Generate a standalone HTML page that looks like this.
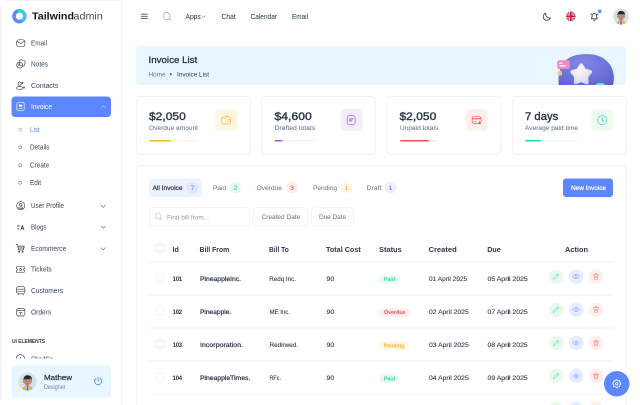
<!DOCTYPE html>
<html lang="en">
<head>
<meta charset="utf-8">
<title>Invoice List - Tailwindadmin</title>
<style>
*{box-sizing:border-box;margin:0;padding:0}
html,body{width:640px;height:405px;overflow:hidden;background:#fff}
body{font-family:"Liberation Sans",sans-serif}
#app{position:absolute;left:0;top:0;width:1280px;height:810px;transform:scale(.5);transform-origin:0 0;will-change:transform;background:#fff;overflow:hidden}
.t{position:absolute;white-space:nowrap;transform-origin:0 50%;display:block}
.i{position:absolute;display:block}
#app div{position:absolute}
aside.side{position:absolute;left:0;top:0;width:244px;height:810px}
.edgeL{background:#eef0f2}
.edgeT{background:#ebedf0}
.edgeR{background:#e4e7eb}
.act{border-radius:7px;background:#5d87ff}
.dot{border:1.6px solid #2a3547;border-radius:50%}
.clipw{overflow:hidden}
.ubox{border-radius:7px;background:#e8f7ff}
header.top{position:absolute;left:245px;top:0;width:1035px;height:66px}
.bul{border-radius:50%;background:#2a3547}
.bdot{border-radius:50%;background:#5d87ff}
main{position:absolute;left:272px;top:0;width:1008px;height:810px}
.banner{position:absolute;left:0;top:92px;width:980px;height:78px;border-radius:7px;background:#e8f7ff;overflow:hidden}
.card{position:absolute;top:192px;width:228.5px;height:117px;border-radius:8px;background:#fff;box-shadow:inset 0 0 0 1.5px #ebedf0}
.bar{height:3.4px;border-radius:2px;overflow:hidden}
.bar>div{position:static!important;height:100%;border-radius:2px}
.ib{border-radius:8px}
.panel{position:absolute;left:0;top:330.5px;width:981px;height:600px;border-radius:8px;background:#fff;box-shadow:inset 0 0 0 1.5px #ebedf0}
.tabon{border-radius:6px;background:#ecf2ff}
.bdg{border-radius:50%}
.btn{border-radius:6px;background:#5d87ff}
.inp{border:1.3px solid #e6e9ed;border-radius:7px;background:#fff}
.cb{border:1.3px solid #e3e6ea;border-radius:4px;background:#fff}
.ln{background:#eeeff1}
.sb{border-radius:9px}
.ab{border-radius:50%}
.fab{border-radius:50%;background:#5d87ff}
</style>
</head>
<body>
<div id="app">
<aside class="side">
<div class="edgeL" style="left:0px;top:10.5px;width:2px;height:788px;"></div>
<div class="edgeT" style="left:12px;top:0px;width:231px;height:1px;"></div>
<div class="edgeR" style="left:242.6px;top:0px;width:1.2px;height:810px;"></div>
<svg class="i" style="left:0;top:0" width="80" height="64" viewBox="0 0 80 64"><path d="M46.00 44.87A14.4 14.4 0 1 1 33.87 18.87L36.34 25.63A7.2 7.2 0 1 0 42.40 38.64Z" fill="#5d87ff"/><path d="M33.64 18.96A14.4 14.4 0 0 1 49.16 22.40L43.98 27.40A7.2 7.2 0 0 0 36.22 25.68Z" fill="#14dfb8"/><path d="M48.98 22.22A14.4 14.4 0 0 1 45.78 44.99L42.29 38.70A7.2 7.2 0 0 0 43.89 27.31Z" fill="#49beff"/></svg>
<span class="t" style="left:64px;top:20px;font-size:20px;line-height:24px;font-weight:700;color:#14161b;transform:scaleX(1.0699);">Tailwind</span>
<span class="t" style="left:147.4px;top:20px;font-size:20px;line-height:24px;color:#44474f;transform:scaleX(1.0755);">admin</span>
<svg class="i" style="left:30.7px;top:75.8px;" width="21" height="21" viewBox="0 0 24 24" fill="none" stroke="#2a3547" stroke-width="1.4" stroke-linecap="round" stroke-linejoin="round"><rect x="2.500" y="4" width="19" height="16" rx="5.500"/><path d="M4 7.500l5.700 4.300c1.400 1 3.200 1 4.600 0L20 7.500"/></svg>
<span class="t" style="left:61.5px;top:77.8px;font-size:14px;line-height:17px;color:#3a465b;transform:scaleX(0.9139);">Email</span>
<svg class="i" style="left:30.7px;top:117.8px;" width="21" height="21" viewBox="0 0 24 24" fill="none" stroke="#2a3547" stroke-width="1.4" stroke-linecap="round" stroke-linejoin="round"><rect x="8.5" y="2.5" width="13" height="13" rx="4" transform="rotate(12 15 9)"/><circle cx="9.5" cy="14" r="6.8"/><path d="M7 15c0-2.200 1.500-3.700 3.700-3.700"/></svg>
<span class="t" style="left:61.5px;top:119.8px;font-size:14px;line-height:17px;color:#3a465b;transform:scaleX(0.9295);">Notes</span>
<svg class="i" style="left:30.7px;top:160.8px;" width="21" height="21" viewBox="0 0 24 24" fill="none" stroke="#2a3547" stroke-width="1.4" stroke-linecap="round" stroke-linejoin="round"><circle cx="9.500" cy="7" r="3.800"/><ellipse cx="9.500" cy="17.200" rx="6.800" ry="4"/><path d="M16.500 3.500v4M14.800 5.500h3.400"/><circle cx="19.500" cy="16" r="1.400"/></svg>
<span class="t" style="left:61.5px;top:162.8px;font-size:14px;line-height:17px;color:#3a465b;transform:scaleX(0.9864);">Contacts</span>
<div class="act" style="left:22.6px;top:192.5px;width:199.4px;height:41.5px;"></div>
<svg class="i" style="left:30px;top:202.3px;" width="22" height="22" viewBox="0 0 24 24" fill="none" stroke="#fff" stroke-width="1.4" stroke-linecap="round" stroke-linejoin="round"><rect x="4" y="2.500" width="16" height="19" rx="4"/><rect x="8.500" y="8" width="7" height="4.500" rx="1" fill="#fff" stroke="none"/><path d="M8 16.500h8"/></svg>
<span class="t" style="left:61.5px;top:204.8px;font-size:14px;line-height:17px;color:#fff;transform:scaleX(0.9468);">Invoice</span>
<svg class="i" style="left:198.5px;top:205.5px;" width="15" height="15" viewBox="0 0 24 24" fill="none" stroke="#fff" stroke-width="1.4" stroke-linecap="round" stroke-linejoin="round"><path d="M6 15l6-6 6 6"/></svg>
<svg class="i" style="left:30.7px;top:401.4px;" width="21" height="21" viewBox="0 0 24 24" fill="none" stroke="#2a3547" stroke-width="1.4" stroke-linecap="round" stroke-linejoin="round"><circle cx="12" cy="12" r="9.300"/><circle cx="12" cy="9.500" r="2.800"/><ellipse cx="12" cy="16.500" rx="4.500" ry="2.200"/></svg>
<span class="t" style="left:61.5px;top:403.4px;font-size:14px;line-height:17px;color:#3a465b;transform:scaleX(0.9024);">User Profile</span>
<svg class="i" style="left:197.5px;top:403.6px;" width="17" height="17" viewBox="0 0 24 24" fill="none" stroke="#465164" stroke-width="1.5" stroke-linecap="round" stroke-linejoin="round"><path d="M6 9l6 6 6-6"/></svg>
<svg class="i" style="left:32.7px;top:445.8px;" width="17" height="17" viewBox="0 0 24 24" fill="none" stroke="#2a3547" stroke-width="1.4" stroke-linecap="round" stroke-linejoin="round"><path d="M2.500 6.500h7.500M2.500 11h5.500M2.500 15.500h4.500M2.500 19.500h3" stroke-width="1.900" stroke-linecap="butt" opacity=".8"/><path d="M12 19.500L16.500 7l4.500 12.500M13.800 15.500h5.400" stroke-width="2.300"/></svg>
<span class="t" style="left:61.5px;top:445.8px;font-size:14px;line-height:17px;color:#3a465b;transform:scaleX(0.8849);">Blogs</span>
<svg class="i" style="left:197.5px;top:446px;" width="17" height="17" viewBox="0 0 24 24" fill="none" stroke="#465164" stroke-width="1.5" stroke-linecap="round" stroke-linejoin="round"><path d="M6 9l6 6 6-6"/></svg>
<svg class="i" style="left:31.45px;top:487.35px;" width="19.5" height="19.5" viewBox="0 0 24 24" fill="none" stroke="#2a3547" stroke-width="1.7" stroke-linecap="round" stroke-linejoin="round"><path d="M1.500 2.500h1.700c1.100 0 2 .800 2.200 1.800L7 14.200c.2 1.100 1.100 1.800 2.200 1.800h8.600c1 0 1.900-.7 2.100-1.700L21.500 6.500H6"/><path d="M6.800 11h13.700"/><rect x="7.800" y="19" width="2.400" height="2.400" rx=".6"/><rect x="16.300" y="19" width="2.400" height="2.400" rx=".6"/></svg>
<span class="t" style="left:61.5px;top:488.6px;font-size:14px;line-height:17px;color:#3a465b;transform:scaleX(0.9439);">Ecommerce</span>
<svg class="i" style="left:197.5px;top:488.8px;" width="17" height="17" viewBox="0 0 24 24" fill="none" stroke="#465164" stroke-width="1.5" stroke-linecap="round" stroke-linejoin="round"><path d="M6 9l6 6 6-6"/></svg>
<svg class="i" style="left:31.2px;top:528.9px;" width="20" height="20" viewBox="0 0 24 24" fill="none" stroke="#2a3547" stroke-width="1.4" stroke-linecap="round" stroke-linejoin="round"><path d="M2 9.500V8a3.500 3.500 0 0 1 3.500-3.500h13A3.500 3.500 0 0 1 22 8v1.500a2.500 2.500 0 0 0 0 5V16a3.500 3.500 0 0 1-3.500 3.500h-13A3.500 3.500 0 0 1 2 16v-1.500a2.500 2.500 0 0 0 0-5z"/><circle cx="12" cy="12" r="2.300"/></svg>
<span class="t" style="left:61.5px;top:530.4px;font-size:14px;line-height:17px;color:#3a465b;transform:scaleX(0.9469);">Tickets</span>
<svg class="i" style="left:30.7px;top:571.1px;" width="21" height="21" viewBox="0 0 24 24" fill="none" stroke="#2a3547" stroke-width="1.4" stroke-linecap="round" stroke-linejoin="round"><rect x="2.500" y="2.500" width="19" height="16.500" rx="5"/><path d="M2.500 8.500h19M2.500 14h19M6.500 19v2.500M17.500 19v2.500"/></svg>
<span class="t" style="left:61.5px;top:573.1px;font-size:14px;line-height:17px;color:#3a465b;transform:scaleX(0.9455);">Customers</span>
<svg class="i" style="left:30.7px;top:614.4px;" width="21" height="21" viewBox="0 0 24 24" fill="none" stroke="#2a3547" stroke-width="1.4" stroke-linecap="round" stroke-linejoin="round"><rect x="2.500" y="3" width="19" height="17.500" rx="5"/><path d="M2.500 8.500h19M9 13h6M12 13v4.500M6.500 20.500v1.500M17.500 20.500v1.500"/></svg>
<span class="t" style="left:61.5px;top:616.4px;font-size:14px;line-height:17px;color:#3a465b;transform:scaleX(0.9463);">Orders</span>
<div class="dot" style="left:36.6px;top:255.6px;width:7.6px;height:7.6px;border-color:#5d87ff"></div>
<span class="t" style="left:59.5px;top:250.8px;font-size:14px;line-height:17px;color:#5d87ff;transform:scaleX(0.8946);">List</span>
<div class="dot" style="left:36.6px;top:290.6px;width:7.6px;height:7.6px;border-color:#3a465b"></div>
<span class="t" style="left:59.5px;top:285.8px;font-size:14px;line-height:17px;color:#3a465b;transform:scaleX(0.9113);">Details</span>
<div class="dot" style="left:36.6px;top:326.6px;width:7.6px;height:7.6px;border-color:#3a465b"></div>
<span class="t" style="left:59.5px;top:321.8px;font-size:14px;line-height:17px;color:#3a465b;transform:scaleX(0.9160);">Create</span>
<div class="dot" style="left:36.6px;top:361.6px;width:7.6px;height:7.6px;border-color:#3a465b"></div>
<span class="t" style="left:59.5px;top:356.8px;font-size:14px;line-height:17px;color:#3a465b;transform:scaleX(0.9119);">Edit</span>
<span class="t" style="left:24px;top:676.3px;font-size:10.5px;line-height:13px;font-weight:700;color:#2a3547;transform:scaleX(0.9349);">UI ELEMENTS</span>
<div class="clipw" style="left:0px;top:700px;width:240px;height:17px;">
<svg class="i" style="left:30.25px;top:6.75px;" width="21.5" height="21.5" viewBox="0 0 24 24" fill="none" stroke="#2a3547" stroke-width="1.4" stroke-linecap="round" stroke-linejoin="round"><circle cx="12" cy="12" r="9.5"/><path d="M12 8v8M8 12h8"/></svg>
<span class="t" style="left:61.5px;top:10.4px;font-size:14px;line-height:17px;color:#3a465b;transform:scaleX(0.8894);">ShadCn</span>
</div>
<div class="ubox" style="left:22.5px;top:730px;width:199.5px;height:64.5px;"></div>
<svg class="i" style="left:37.4px;top:745px" width="36" height="36" viewBox="0 0 40 40">
<defs><clipPath id="av1"><circle cx="20" cy="20" r="20"/></clipPath></defs>
<g clip-path="url(#av1)"><rect width="40" height="40" fill="#d6e0e7"/>
<path d="M8 41c0-7 4-11.500 12-11.500S32 34 32 41z" fill="#f0ad1c"/>
<path d="M17 30h6l1.500 11h-9z" fill="#f6f7f9"/>
<path d="M18.300 30.500h3.400l.9 10.500h-5.200z" fill="#2e74df"/>
<rect x="16.500" y="25" width="7" height="6" rx="2.500" fill="#b5756a"/>
<ellipse cx="20" cy="19.800" rx="8.600" ry="9.200" fill="#c98a7c"/>
<ellipse cx="11.300" cy="20.500" rx="1.700" ry="2.500" fill="#c58577"/><ellipse cx="28.700" cy="20.500" rx="1.700" ry="2.500" fill="#c58577"/>
<path d="M11.300 18.500c-1.300-7 2.200-12.500 9.200-12.500 6.500 0 10.500 4.500 9 12.500-.7-2.600-1.800-4.300-3.300-5.200-3.500 1.600-8 1.400-11 .200-1.800 1-3.200 2.700-3.900 5z" fill="#26262b"/>
<ellipse cx="16.500" cy="19.500" rx="2.100" ry="1.800" fill="#f4ece8"/><ellipse cx="23.500" cy="19.500" rx="2.100" ry="1.800" fill="#f4ece8"/>
<circle cx="16.700" cy="19.600" r="1.200" fill="#2b2320"/><circle cx="23.300" cy="19.600" r="1.200" fill="#2b2320"/>
<path d="M13.800 16.800c1.500-1 3.500-1 5 0M21.200 16.800c1.500-1 3.500-1 5 0" stroke="#2b2320" stroke-width="1" fill="none"/>
<path d="M17.500 25c1.700.9 3.300.9 5 0" stroke="#7c3f38" stroke-width="1" fill="none"/>
</g></svg>
<span class="t" style="left:88px;top:745.8px;font-size:15px;line-height:18px;-webkit-text-stroke:0.51px currentColor;color:#2a3547;transform:scaleX(1.0660);">Mathew</span>
<span class="t" style="left:88px;top:766.8px;font-size:12px;line-height:14px;color:#737c8e;transform:scaleX(0.8953);">Designer</span>
<svg class="i" style="left:185.75px;top:752.25px;" width="20.5" height="20.5" viewBox="0 0 24 24" fill="none" stroke="#5d87ff" stroke-width="2.1" stroke-linecap="round" stroke-linejoin="round"><path d="M12 3v9"/><path d="M7 5.800a8.200 8.200 0 1 0 10 0"/></svg>
</aside>
<header class="top">
<svg class="i" style="left:35px;top:24.2px;" width="17" height="17" viewBox="0 0 24 24" fill="none" stroke="#2a3547" stroke-width="2.1" stroke-linecap="round" stroke-linejoin="round"><path d="M3 6h18M3 12h18M3 18h18"/></svg>
<svg class="i" style="left:78.7px;top:22.7px;" width="20" height="20" viewBox="0 0 24 24" fill="none" stroke="#7d8798" stroke-width="1.3" stroke-linecap="round" stroke-linejoin="round"><circle cx="11" cy="11" r="8.5"/><path d="M18 18l3.500 3.500"/></svg>
<span class="t" style="left:125.5px;top:24.8px;font-size:14px;line-height:17px;color:#2a3547;transform:scaleX(0.9555);">Apps</span>
<svg class="i" style="left:155.3px;top:25.8px;" width="14" height="14" viewBox="0 0 24 24" fill="none" stroke="#2a3547" stroke-width="1.6" stroke-linecap="round" stroke-linejoin="round"><path d="M6 9l6 6 6-6"/></svg>
<span class="t" style="left:197.5px;top:24.8px;font-size:14px;line-height:17px;color:#2a3547;transform:scaleX(0.9635);">Chat</span>
<span class="t" style="left:255.5px;top:24.8px;font-size:14px;line-height:17px;color:#2a3547;transform:scaleX(0.9326);">Calendar</span>
<span class="t" style="left:338.5px;top:24.8px;font-size:14px;line-height:17px;color:#2a3547;transform:scaleX(0.9139);">Email</span>
<svg class="i" style="left:839px;top:23px;" width="20" height="20" viewBox="0 0 24 24" fill="none" stroke="#333f52" stroke-width="2.1" stroke-linecap="round" stroke-linejoin="round"><path d="M20 15A8.500 8.500 0 0 1 9.500 4a8.700 8.700 0 1 0 10.500 11z"/></svg>
<svg class="i" style="left:886.8px;top:23.400px" width="19.200" height="19.200" viewBox="0 0 20 20"><defs><clipPath id="fl"><circle cx="10" cy="10" r="10"/></clipPath></defs>
<g clip-path="url(#fl)"><rect width="20" height="20" fill="#2b3a9e"/><path d="M0 0l20 20M20 0L0 20" stroke="#fff" stroke-width="3.200"/><path d="M0 0l20 20M20 0L0 20" stroke="#e8112d" stroke-width="1.6"/>
<path d="M10 0v20M0 10h20" stroke="#fff" stroke-width="6.5"/><path d="M10 0v20M0 10h20" stroke="#e8112d" stroke-width="4"/></g></svg>
<svg class="i" style="left:934.25px;top:22.75px;" width="19.5" height="19.5" viewBox="0 0 24 24" fill="none" stroke="#2a3547" stroke-width="2" stroke-linecap="round" stroke-linejoin="round"><path d="M6.500 10.500a5.500 5.500 0 0 1 11 0v3l1.700 3.200c.3.600-.1 1.300-.8 1.300H5.600c-.7 0-1.100-.7-.8-1.300l1.700-3.200z"/><path d="M9.500 21c1.500 1 3.500 1 5 0M3 5.500L5.500 8M21 5.500L18.500 8"/></svg>
<div class="bdot" style="left:950.6px;top:18.8px;width:7.4px;height:7.4px;"></div>
<svg class="i" style="left:981px;top:17px" width="32" height="32" viewBox="0 0 40 40">
<defs><clipPath id="av2"><circle cx="20" cy="20" r="20"/></clipPath></defs>
<g clip-path="url(#av2)"><rect width="40" height="40" fill="#d6e0e7"/>
<path d="M8 41c0-7 4-11.500 12-11.500S32 34 32 41z" fill="#f0ad1c"/>
<path d="M17 30h6l1.500 11h-9z" fill="#f6f7f9"/>
<path d="M18.300 30.500h3.400l.9 10.500h-5.200z" fill="#2e74df"/>
<rect x="16.500" y="25" width="7" height="6" rx="2.500" fill="#b5756a"/>
<ellipse cx="20" cy="19.800" rx="8.600" ry="9.200" fill="#c98a7c"/>
<ellipse cx="11.300" cy="20.500" rx="1.700" ry="2.500" fill="#c58577"/><ellipse cx="28.700" cy="20.500" rx="1.700" ry="2.500" fill="#c58577"/>
<path d="M11.300 18.500c-1.300-7 2.200-12.500 9.200-12.500 6.500 0 10.500 4.500 9 12.500-.7-2.600-1.800-4.300-3.300-5.200-3.500 1.600-8 1.400-11 .200-1.800 1-3.200 2.700-3.900 5z" fill="#26262b"/>
<ellipse cx="16.500" cy="19.500" rx="2.100" ry="1.800" fill="#f4ece8"/><ellipse cx="23.500" cy="19.500" rx="2.100" ry="1.800" fill="#f4ece8"/>
<circle cx="16.700" cy="19.600" r="1.200" fill="#2b2320"/><circle cx="23.300" cy="19.600" r="1.200" fill="#2b2320"/>
<path d="M13.800 16.800c1.500-1 3.500-1 5 0M21.200 16.800c1.500-1 3.500-1 5 0" stroke="#2b2320" stroke-width="1" fill="none"/>
<path d="M17.500 25c1.700.9 3.300.9 5 0" stroke="#7c3f38" stroke-width="1" fill="none"/>
</g></svg>
</header>
<main>
<section class="banner">
<svg class="i" style="left:830px;top:0" width="150" height="78" viewBox="0 0 150 78">
<defs><radialGradient id="bg1" cx="0.42" cy="0.3" r="0.85"><stop offset="0" stop-color="#8087e6"/><stop offset="0.65" stop-color="#6a70d6"/><stop offset="1" stop-color="#5a60c6"/></radialGradient>
<radialGradient id="st1" cx="0.4" cy="0.3" r="0.9"><stop offset="0" stop-color="#fbfbfd"/><stop offset="1" stop-color="#d3d4de"/></radialGradient></defs>
<path d="M15.500 78C14 60 16 40 30.500 27.500 42 18 58 16 73 16.200c15 .300 25 3.800 32.500 8.800 9.500 7 15.500 15 17.500 22.500 3 8.500 4 20.500 1 30.500z" fill="url(#bg1)"/>
<path d="M60.5 39.0L66.7 49.0L78.1 51.8L70.5 60.7L71.4 72.5L60.5 68.0L49.6 72.5L50.5 60.7L42.9 51.8L54.3 49.0Z" fill="url(#st1)" stroke="url(#st1)" stroke-width="8" stroke-linejoin="round"/>
<rect x="12.500" y="28.500" width="25" height="17.500" rx="4" fill="#f08bc0"/><rect x="16.500" y="33" width="6" height="2.500" rx="1" fill="#fff"/><rect x="16.500" y="38.500" width="13" height="2.500" rx="1" fill="#fff"/>
<rect x="13.500" y="50" width="8.500" height="9" rx="2" fill="#f7c678"/>
<ellipse cx="98.500" cy="79" rx="10" ry="5.500" fill="#5fe0d0"/>
</svg>
<span class="t" style="left:25px;top:16.8px;font-size:18px;line-height:22px;-webkit-text-stroke:0.61px currentColor;color:#2a3547;transform:scaleX(1.0828);">Invoice List</span>
<span class="t" style="left:25px;top:49.8px;font-size:12.5px;line-height:15px;color:#687489;transform:scaleX(1.0197);">Home</span>
<span class="t" style="left:67.6px;top:48.9px;font-size:13px;line-height:16px;color:#2a3547;">•</span>
<span class="t" style="left:82px;top:49.8px;font-size:12.5px;line-height:15px;color:#2a3547;transform:scaleX(1.0235);">Invoice List</span>
</section>
<section class="card" style="left:0px">
<span class="t" style="left:26px;top:27.3px;font-size:22.5px;line-height:27px;-webkit-text-stroke:0.77px currentColor;color:#2a3547;transform:scaleX(1.0679);">$2,050</span>
<span class="t" style="left:26.3px;top:55.8px;font-size:13px;line-height:16px;color:#5f6b82;transform:scaleX(1.0119);">Overdue amount</span>
<div class="bar" style="left:26.3px;top:87.6px;width:98px;background:#fff5e3"><div style="width:45%;background:#fcb52e"></div></div>
<div class="ib" style="left:158.6px;top:26px;width:43.5px;height:43.3px;background:#fff5e3"></div>
<svg class="i" style="left:168.75px;top:36.55px;" width="22.5" height="22.5" viewBox="0 0 24 24" fill="none" stroke="#fcb52e" stroke-width="1.35" stroke-linecap="round" stroke-linejoin="round"><path d="M2.500 9a4 4 0 0 1 4-4h11a4 4 0 0 1 4 4v7a4 4 0 0 1-4 4h-11a4 4 0 0 1-4-4z"/><path d="M21.500 10.300h-3.300a2.300 2.300 0 0 0 0 4.600h3.300"/><path d="M6 8.500h4"/><path d="M10 3.500c1.300-.700 2.700-.700 4 0"/></svg>
</section>
<section class="card" style="left:250.67px">
<span class="t" style="left:26px;top:27.3px;font-size:22.5px;line-height:27px;-webkit-text-stroke:0.77px currentColor;color:#2a3547;transform:scaleX(1.0824);">$4,600</span>
<span class="t" style="left:26.3px;top:55.8px;font-size:13px;line-height:16px;color:#5f6b82;transform:scaleX(1.0475);">Drafted totals</span>
<div class="bar" style="left:26.3px;top:87.6px;width:81px;background:#f3edff"><div style="width:20%;background:#8a5cf5"></div></div>
<div class="ib" style="left:158.6px;top:26px;width:43.5px;height:43.3px;background:#f3edff"></div>
<svg class="i" style="left:168.75px;top:36.55px;" width="22.5" height="22.5" viewBox="0 0 24 24" fill="none" stroke="#8a5cf5" stroke-width="1.35" stroke-linecap="round" stroke-linejoin="round"><rect x="3.500" y="2.500" width="17" height="19" rx="4.500"/><path d="M8 9.500h8M8 13.500h5" stroke-width="2.200"/></svg>
</section>
<section class="card" style="left:501.34px">
<span class="t" style="left:26px;top:27.3px;font-size:22.5px;line-height:27px;-webkit-text-stroke:0.77px currentColor;color:#2a3547;transform:scaleX(1.0679);">$2,050</span>
<span class="t" style="left:26.3px;top:55.8px;font-size:13px;line-height:16px;color:#5f6b82;transform:scaleX(1.0080);">Unpaid totals</span>
<div class="bar" style="left:26.3px;top:87.6px;width:76.5px;background:#feefed"><div style="width:76%;background:#f0524f"></div></div>
<div class="ib" style="left:158.6px;top:26px;width:43.5px;height:43.3px;background:#feefed"></div>
<svg class="i" style="left:168.75px;top:36.55px;" width="22.5" height="22.5" viewBox="0 0 24 24" fill="none" stroke="#f0524f" stroke-width="1.35" stroke-linecap="round" stroke-linejoin="round"><rect x="2.500" y="4.500" width="19" height="15" rx="4"/><path d="M2.500 9h19" stroke-width="2"/><path d="M6 14.500h6" stroke-dasharray="1.500 1.800"/><path d="M18.500 14v6M16.500 18.200l2 2 2-2" stroke-width="1.800"/></svg>
</section>
<section class="card" style="left:752.01px">
<span class="t" style="left:26px;top:27.3px;font-size:22.5px;line-height:27px;-webkit-text-stroke:0.77px currentColor;color:#2a3547;transform:scaleX(1.0031);">7 days</span>
<span class="t" style="left:26.3px;top:55.8px;font-size:13px;line-height:16px;color:#5f6b82;transform:scaleX(1.0139);">Average paid time</span>
<div class="bar" style="left:26.3px;top:87.6px;width:106px;background:#eff9ef"><div style="width:30%;background:#22d9ae"></div></div>
<div class="ib" style="left:158.6px;top:26px;width:43.5px;height:43.3px;background:#eff9ef"></div>
<svg class="i" style="left:168.75px;top:36.55px;" width="22.5" height="22.5" viewBox="0 0 24 24" fill="none" stroke="#22d9ae" stroke-width="1.35" stroke-linecap="round" stroke-linejoin="round"><circle cx="12" cy="12" r="9.800"/><path d="M12 7.500V12l2.500 2.500" stroke-width="2.200"/></svg>
</section>
<section class="panel">
<div class="tabon" style="left:26px;top:26.5px;width:106px;height:36.5px;"></div>
<span class="t" style="left:32.5px;top:37px;font-size:13.5px;line-height:16px;-webkit-text-stroke:0.46px currentColor;color:#2a3547;transform:scaleX(0.9751);">All Invoice</span>
<div class="bdg" style="left:101px;top:32.7px;width:24px;height:24px;background:#dfe7ff"></div>
<span class="t" style="left:109.24px;top:37.2px;font-size:13.5px;line-height:16px;-webkit-text-stroke:0.19px currentColor;color:#5d87ff;">7</span>
<span class="t" style="left:154px;top:37px;font-size:13.5px;line-height:16px;color:#646d7f;transform:scaleX(0.9618);">Paid</span>
<div class="bdg" style="left:187px;top:32.7px;width:24px;height:24px;background:#ebf9ee"></div>
<span class="t" style="left:195.24px;top:37.2px;font-size:13.5px;line-height:16px;-webkit-text-stroke:0.19px currentColor;color:#22d9ae;">2</span>
<span class="t" style="left:241px;top:37px;font-size:13.5px;line-height:16px;color:#646d7f;transform:scaleX(0.9849);">Overdue</span>
<div class="bdg" style="left:300px;top:32.7px;width:24px;height:24px;background:#feefee"></div>
<span class="t" style="left:308.24px;top:37.2px;font-size:13.5px;line-height:16px;-webkit-text-stroke:0.19px currentColor;color:#f0524f;">3</span>
<span class="t" style="left:354px;top:37px;font-size:13.5px;line-height:16px;color:#646d7f;transform:scaleX(0.9688);">Pending</span>
<div class="bdg" style="left:409px;top:32.7px;width:24px;height:24px;background:#fff6e5"></div>
<span class="t" style="left:417.24px;top:37.2px;font-size:13.5px;line-height:16px;-webkit-text-stroke:0.19px currentColor;color:#fbb02a;">1</span>
<span class="t" style="left:460.5px;top:37px;font-size:13.5px;line-height:16px;color:#646d7f;transform:scaleX(1.0251);">Draft</span>
<div class="bdg" style="left:497px;top:32.7px;width:24px;height:24px;background:#f3eeff"></div>
<span class="t" style="left:505.24px;top:37.2px;font-size:13.5px;line-height:16px;-webkit-text-stroke:0.19px currentColor;color:#8a5cf5;">1</span>
<div class="btn" style="left:854.2px;top:26.5px;width:100.3px;height:36.5px;"></div>
<span class="t" style="left:869.5px;top:37px;font-size:13px;line-height:16px;-webkit-text-stroke:0.44px currentColor;color:#fff;transform:scaleX(0.9885);">New Invoice</span>
<div class="inp" style="left:26px;top:84.5px;width:201px;height:36.5px;"></div>
<svg class="i" style="left:35.55px;top:93.95px;" width="17.5" height="17.5" viewBox="0 0 24 24" fill="none" stroke="#a3afc4" stroke-width="1.4" stroke-linecap="round" stroke-linejoin="round"><circle cx="11" cy="11" r="8.5"/><path d="M18 18l3.500 3.500"/></svg>
<span class="t" style="left:62px;top:96.3px;font-size:13.5px;line-height:16px;color:#8a96ad;transform:scaleX(0.9488);">Find bill from...</span>
<div class="inp" style="left:234.5px;top:84.5px;width:109px;height:36.5px;"></div>
<span class="t" style="left:250.5px;top:95px;font-size:13.5px;line-height:16px;color:#5f6b82;transform:scaleX(0.9652);">Created Date</span>
<div class="inp" style="left:351px;top:84.5px;width:85px;height:36.5px;"></div>
<span class="t" style="left:366px;top:95px;font-size:13.5px;line-height:16px;color:#5f6b82;transform:scaleX(0.9466);">Due Date</span>
<div class="cb" style="left:40.3px;top:157.1px;width:16px;height:16px;"></div>
<span class="t" style="left:72.5px;top:160px;font-size:14.3px;line-height:17px;font-weight:700;color:#2c3749;transform:scaleX(0.9828);">Id</span>
<span class="t" style="left:126.7px;top:160px;font-size:14.3px;line-height:17px;font-weight:700;color:#2c3749;transform:scaleX(0.9602);">Bill From</span>
<span class="t" style="left:265.5px;top:160px;font-size:14.3px;line-height:17px;font-weight:700;color:#2c3749;transform:scaleX(0.9267);">Bill To</span>
<span class="t" style="left:379.5px;top:160px;font-size:14.3px;line-height:17px;font-weight:700;color:#2c3749;transform:scaleX(1.0095);">Total Cost</span>
<span class="t" style="left:485.5px;top:160px;font-size:14.3px;line-height:17px;font-weight:700;color:#2c3749;transform:scaleX(1.0411);">Status</span>
<span class="t" style="left:584.5px;top:160px;font-size:14.3px;line-height:17px;font-weight:700;color:#2c3749;transform:scaleX(1.0610);">Created</span>
<span class="t" style="left:702.5px;top:160px;font-size:14.3px;line-height:17px;font-weight:700;color:#2c3749;">Due</span>
<span class="t" style="left:857.5px;top:160px;font-size:14.3px;line-height:17px;font-weight:700;color:#2c3749;transform:scaleX(1.0341);">Action</span>
<div class="ln" style="left:26px;top:192.5px;width:928px;height:1.8px;"></div>
<div class="cb" style="left:40.3px;top:216.9px;width:16px;height:16px;"></div>
<span class="t" style="left:73.3px;top:220.5px;font-size:12px;line-height:14px;font-weight:700;color:#2a3547;letter-spacing:-0.58px;">101</span>
<span class="t" style="left:127.5px;top:220px;font-size:12.5px;line-height:15px;-webkit-text-stroke:0.43px currentColor;color:#2a3547;transform:scaleX(1.0823);">PineappleInc.</span>
<span class="t" style="left:266.5px;top:220px;font-size:12.5px;line-height:15px;-webkit-text-stroke:0.18px currentColor;color:#2a3547;">Redq Inc.</span>
<span class="t" style="left:380.5px;top:220px;font-size:12.5px;line-height:15px;-webkit-text-stroke:0.18px currentColor;color:#2a3547;transform:scaleX(1.1146);">90</span>
<div class="sb" style="left:486.3px;top:219px;width:40px;height:18.2px;background:#ebfaf0"></div>
<span class="t" style="left:496px;top:221.8px;font-size:10.5px;line-height:13px;font-weight:700;color:#22d9ae;transform:scaleX(0.9915);">Paid</span>
<span class="t" style="left:585.5px;top:220px;font-size:12.5px;line-height:15px;-webkit-text-stroke:0.18px currentColor;color:#2a3547;transform:scaleX(1.0482);">01 April 2025</span>
<span class="t" style="left:703px;top:220px;font-size:12.5px;line-height:15px;-webkit-text-stroke:0.18px currentColor;color:#2a3547;transform:scaleX(1.1030);">05 April 2025</span>
<div class="ab" style="left:825.7px;top:208.2px;width:29px;height:29px;background:#e9f8ed"></div>
<svg class="i" style="left:832.2px;top:214.7px;" width="16" height="16" viewBox="0 0 24 24" fill="none" stroke="#22d9ae" stroke-width="1.4" stroke-linecap="round" stroke-linejoin="round"><path d="M14.500 5.500l4 4M4 20l1-4.500L16 4.500a2.100 2.100 0 0 1 3 0l.5.500a2.100 2.100 0 0 1 0 3L8.500 19z"/></svg>
<div class="ab" style="left:865.7px;top:208.2px;width:29px;height:29px;background:#e7edff"></div>
<svg class="i" style="left:872.2px;top:214.7px;" width="16" height="16" viewBox="0 0 24 24" fill="none" stroke="#6a90ff" stroke-width="1.4" stroke-linecap="round" stroke-linejoin="round"><path d="M2.500 12c2-4 5.500-6.500 9.500-6.500s7.500 2.500 9.500 6.500c-2 4-5.500 6.500-9.500 6.500S4.500 16 2.500 12z"/><circle cx="12" cy="12" r="3"/></svg>
<div class="ab" style="left:905.7px;top:208.2px;width:29px;height:29px;background:#feeeed"></div>
<svg class="i" style="left:912.2px;top:214.7px;" width="16" height="16" viewBox="0 0 24 24" fill="none" stroke="#f2605c" stroke-width="1.4" stroke-linecap="round" stroke-linejoin="round"><path d="M4 6.500h16M9.500 3.500h5M6 6.500l.8 11.500a3 3 0 0 0 3 2.800h4.400a3 3 0 0 0 3-2.800L18 6.500"/><path d="M9.500 11c1.500 1 3.500 1 5 0M9.500 15c1.500 1 3.500 1 5 0"/></svg>
<div class="ln" style="left:26px;top:258.65px;width:928px;height:1.8px;"></div>
<div class="cb" style="left:40.3px;top:283.05px;width:16px;height:16px;"></div>
<span class="t" style="left:73.3px;top:286.65px;font-size:12px;line-height:14px;font-weight:700;color:#2a3547;letter-spacing:-0.58px;">102</span>
<span class="t" style="left:127.5px;top:286.15px;font-size:12.5px;line-height:15px;-webkit-text-stroke:0.43px currentColor;color:#2a3547;transform:scaleX(1.0579);">Pineapple.</span>
<span class="t" style="left:266.5px;top:286.15px;font-size:12.5px;line-height:15px;-webkit-text-stroke:0.18px currentColor;color:#2a3547;transform:scaleX(0.9676);">ME Inc.</span>
<span class="t" style="left:380.5px;top:286.15px;font-size:12.5px;line-height:15px;-webkit-text-stroke:0.18px currentColor;color:#2a3547;transform:scaleX(1.1146);">90</span>
<div class="sb" style="left:486.3px;top:285.15px;width:62.5px;height:18.2px;background:#feeeee"></div>
<span class="t" style="left:496px;top:287.95px;font-size:10.5px;line-height:13px;font-weight:700;color:#f0524f;transform:scaleX(1.0092);">Overdue</span>
<span class="t" style="left:585.5px;top:286.15px;font-size:12.5px;line-height:15px;-webkit-text-stroke:0.18px currentColor;color:#2a3547;transform:scaleX(1.0893);">02 April 2025</span>
<span class="t" style="left:703px;top:286.15px;font-size:12.5px;line-height:15px;-webkit-text-stroke:0.18px currentColor;color:#2a3547;transform:scaleX(1.1030);">07 April 2025</span>
<div class="ab" style="left:825.7px;top:274.35px;width:29px;height:29px;background:#e9f8ed"></div>
<svg class="i" style="left:832.2px;top:280.85px;" width="16" height="16" viewBox="0 0 24 24" fill="none" stroke="#22d9ae" stroke-width="1.4" stroke-linecap="round" stroke-linejoin="round"><path d="M14.500 5.500l4 4M4 20l1-4.500L16 4.500a2.100 2.100 0 0 1 3 0l.5.500a2.100 2.100 0 0 1 0 3L8.500 19z"/></svg>
<div class="ab" style="left:865.7px;top:274.35px;width:29px;height:29px;background:#e7edff"></div>
<svg class="i" style="left:872.2px;top:280.85px;" width="16" height="16" viewBox="0 0 24 24" fill="none" stroke="#6a90ff" stroke-width="1.4" stroke-linecap="round" stroke-linejoin="round"><path d="M2.500 12c2-4 5.500-6.500 9.500-6.500s7.500 2.500 9.500 6.500c-2 4-5.500 6.500-9.500 6.500S4.500 16 2.500 12z"/><circle cx="12" cy="12" r="3"/></svg>
<div class="ab" style="left:905.7px;top:274.35px;width:29px;height:29px;background:#feeeed"></div>
<svg class="i" style="left:912.2px;top:280.85px;" width="16" height="16" viewBox="0 0 24 24" fill="none" stroke="#f2605c" stroke-width="1.4" stroke-linecap="round" stroke-linejoin="round"><path d="M4 6.500h16M9.500 3.500h5M6 6.500l.8 11.500a3 3 0 0 0 3 2.800h4.400a3 3 0 0 0 3-2.800L18 6.500"/><path d="M9.500 11c1.500 1 3.500 1 5 0M9.500 15c1.500 1 3.500 1 5 0"/></svg>
<div class="ln" style="left:26px;top:324.8px;width:928px;height:1.8px;"></div>
<div class="cb" style="left:40.3px;top:349.2px;width:16px;height:16px;"></div>
<span class="t" style="left:73.3px;top:352.8px;font-size:12px;line-height:14px;font-weight:700;color:#2a3547;letter-spacing:-0.58px;">103</span>
<span class="t" style="left:127.5px;top:352.3px;font-size:12.5px;line-height:15px;-webkit-text-stroke:0.43px currentColor;color:#2a3547;transform:scaleX(1.1251);">Incorporation.</span>
<span class="t" style="left:266.5px;top:352.3px;font-size:12.5px;line-height:15px;-webkit-text-stroke:0.18px currentColor;color:#2a3547;transform:scaleX(1.0128);">Redirwed.</span>
<span class="t" style="left:380.5px;top:352.3px;font-size:12.5px;line-height:15px;-webkit-text-stroke:0.18px currentColor;color:#2a3547;transform:scaleX(1.1146);">90</span>
<div class="sb" style="left:486.3px;top:351.3px;width:60px;height:18.2px;background:#fff6e3"></div>
<span class="t" style="left:496px;top:354.1px;font-size:10.5px;line-height:13px;font-weight:700;color:#fbb02a;transform:scaleX(0.9777);">Pending</span>
<span class="t" style="left:585.5px;top:352.3px;font-size:12.5px;line-height:15px;-webkit-text-stroke:0.18px currentColor;color:#2a3547;transform:scaleX(1.0893);">03 April 2025</span>
<span class="t" style="left:703px;top:352.3px;font-size:12.5px;line-height:15px;-webkit-text-stroke:0.18px currentColor;color:#2a3547;transform:scaleX(1.1030);">08 April 2025</span>
<div class="ab" style="left:825.7px;top:340.5px;width:29px;height:29px;background:#e9f8ed"></div>
<svg class="i" style="left:832.2px;top:347px;" width="16" height="16" viewBox="0 0 24 24" fill="none" stroke="#22d9ae" stroke-width="1.4" stroke-linecap="round" stroke-linejoin="round"><path d="M14.500 5.500l4 4M4 20l1-4.500L16 4.500a2.100 2.100 0 0 1 3 0l.5.500a2.100 2.100 0 0 1 0 3L8.500 19z"/></svg>
<div class="ab" style="left:865.7px;top:340.5px;width:29px;height:29px;background:#e7edff"></div>
<svg class="i" style="left:872.2px;top:347px;" width="16" height="16" viewBox="0 0 24 24" fill="none" stroke="#6a90ff" stroke-width="1.4" stroke-linecap="round" stroke-linejoin="round"><path d="M2.500 12c2-4 5.500-6.500 9.500-6.500s7.500 2.500 9.500 6.500c-2 4-5.500 6.500-9.500 6.500S4.500 16 2.500 12z"/><circle cx="12" cy="12" r="3"/></svg>
<div class="ab" style="left:905.7px;top:340.5px;width:29px;height:29px;background:#feeeed"></div>
<svg class="i" style="left:912.2px;top:347px;" width="16" height="16" viewBox="0 0 24 24" fill="none" stroke="#f2605c" stroke-width="1.4" stroke-linecap="round" stroke-linejoin="round"><path d="M4 6.500h16M9.500 3.500h5M6 6.500l.8 11.500a3 3 0 0 0 3 2.800h4.400a3 3 0 0 0 3-2.800L18 6.500"/><path d="M9.500 11c1.500 1 3.500 1 5 0M9.500 15c1.500 1 3.500 1 5 0"/></svg>
<div class="ln" style="left:26px;top:390.95px;width:928px;height:1.8px;"></div>
<div class="cb" style="left:40.3px;top:415.35px;width:16px;height:16px;"></div>
<span class="t" style="left:73.3px;top:418.95px;font-size:12px;line-height:14px;font-weight:700;color:#2a3547;letter-spacing:-0.58px;">104</span>
<span class="t" style="left:127.5px;top:418.45px;font-size:12.5px;line-height:15px;-webkit-text-stroke:0.43px currentColor;color:#2a3547;transform:scaleX(1.0848);">PineappleTimes.</span>
<span class="t" style="left:266.5px;top:418.45px;font-size:12.5px;line-height:15px;-webkit-text-stroke:0.18px currentColor;color:#2a3547;transform:scaleX(0.8715);">RFc.</span>
<span class="t" style="left:380.5px;top:418.45px;font-size:12.5px;line-height:15px;-webkit-text-stroke:0.18px currentColor;color:#2a3547;transform:scaleX(1.1146);">90</span>
<div class="sb" style="left:486.3px;top:417.45px;width:40px;height:18.2px;background:#ebfaf0"></div>
<span class="t" style="left:496px;top:420.25px;font-size:10.5px;line-height:13px;font-weight:700;color:#22d9ae;transform:scaleX(0.9915);">Paid</span>
<span class="t" style="left:585.5px;top:418.45px;font-size:12.5px;line-height:15px;-webkit-text-stroke:0.18px currentColor;color:#2a3547;transform:scaleX(1.0893);">04 April 2025</span>
<span class="t" style="left:703px;top:418.45px;font-size:12.5px;line-height:15px;-webkit-text-stroke:0.18px currentColor;color:#2a3547;transform:scaleX(1.1030);">09 April 2025</span>
<div class="ab" style="left:825.7px;top:406.65px;width:29px;height:29px;background:#e9f8ed"></div>
<svg class="i" style="left:832.2px;top:413.15px;" width="16" height="16" viewBox="0 0 24 24" fill="none" stroke="#22d9ae" stroke-width="1.4" stroke-linecap="round" stroke-linejoin="round"><path d="M14.500 5.500l4 4M4 20l1-4.500L16 4.500a2.100 2.100 0 0 1 3 0l.5.500a2.100 2.100 0 0 1 0 3L8.500 19z"/></svg>
<div class="ab" style="left:865.7px;top:406.65px;width:29px;height:29px;background:#e7edff"></div>
<svg class="i" style="left:872.2px;top:413.15px;" width="16" height="16" viewBox="0 0 24 24" fill="none" stroke="#6a90ff" stroke-width="1.4" stroke-linecap="round" stroke-linejoin="round"><path d="M2.500 12c2-4 5.500-6.500 9.500-6.500s7.500 2.500 9.500 6.500c-2 4-5.500 6.500-9.500 6.500S4.500 16 2.500 12z"/><circle cx="12" cy="12" r="3"/></svg>
<div class="ab" style="left:905.7px;top:406.65px;width:29px;height:29px;background:#feeeed"></div>
<svg class="i" style="left:912.2px;top:413.15px;" width="16" height="16" viewBox="0 0 24 24" fill="none" stroke="#f2605c" stroke-width="1.4" stroke-linecap="round" stroke-linejoin="round"><path d="M4 6.500h16M9.500 3.500h5M6 6.500l.8 11.500a3 3 0 0 0 3 2.800h4.400a3 3 0 0 0 3-2.800L18 6.500"/><path d="M9.500 11c1.500 1 3.500 1 5 0M9.500 15c1.500 1 3.500 1 5 0"/></svg>
<div class="ln" style="left:26px;top:457.1px;width:928px;height:1.8px;"></div>
<div class="ab" style="left:825.7px;top:472.8px;width:29px;height:29px;background:#e9f8ed"></div>
<svg class="i" style="left:832.2px;top:479.3px;" width="16" height="16" viewBox="0 0 24 24" fill="none" stroke="#22d9ae" stroke-width="1.4" stroke-linecap="round" stroke-linejoin="round"><path d="M14.500 5.500l4 4M4 20l1-4.500L16 4.500a2.100 2.100 0 0 1 3 0l.5.500a2.100 2.100 0 0 1 0 3L8.500 19z"/></svg>
<div class="ab" style="left:865.7px;top:472.8px;width:29px;height:29px;background:#e7edff"></div>
<svg class="i" style="left:872.2px;top:479.3px;" width="16" height="16" viewBox="0 0 24 24" fill="none" stroke="#6a90ff" stroke-width="1.4" stroke-linecap="round" stroke-linejoin="round"><path d="M2.500 12c2-4 5.500-6.500 9.500-6.500s7.500 2.500 9.500 6.500c-2 4-5.500 6.500-9.500 6.500S4.500 16 2.500 12z"/><circle cx="12" cy="12" r="3"/></svg>
<div class="ab" style="left:905.7px;top:472.8px;width:29px;height:29px;background:#feeeed"></div>
<svg class="i" style="left:912.2px;top:479.3px;" width="16" height="16" viewBox="0 0 24 24" fill="none" stroke="#f2605c" stroke-width="1.4" stroke-linecap="round" stroke-linejoin="round"><path d="M4 6.500h16M9.500 3.500h5M6 6.500l.8 11.500a3 3 0 0 0 3 2.800h4.400a3 3 0 0 0 3-2.800L18 6.500"/><path d="M9.500 11c1.500 1 3.500 1 5 0M9.500 15c1.500 1 3.500 1 5 0"/></svg>
</section>
</main>
<div class="fab" style="left:1207.5px;top:741.5px;width:51px;height:51px;"></div>
<svg class="i" style="left:1222.5px;top:756.5px;" width="21" height="21" viewBox="0 0 24 24" fill="none" stroke="#fff" stroke-width="1.9" stroke-linecap="round" stroke-linejoin="round"><path d="M12.00 2.40L14.83 5.16L18.79 5.21L18.84 9.17L21.60 12.00L18.84 14.83L18.79 18.79L14.83 18.84L12.00 21.60L9.17 18.84L5.21 18.79L5.16 14.83L2.40 12.00L5.16 9.17L5.21 5.21L9.17 5.16Z"/><circle cx="12" cy="12" r="2.6"/></svg>
</div>
</body>
</html>
